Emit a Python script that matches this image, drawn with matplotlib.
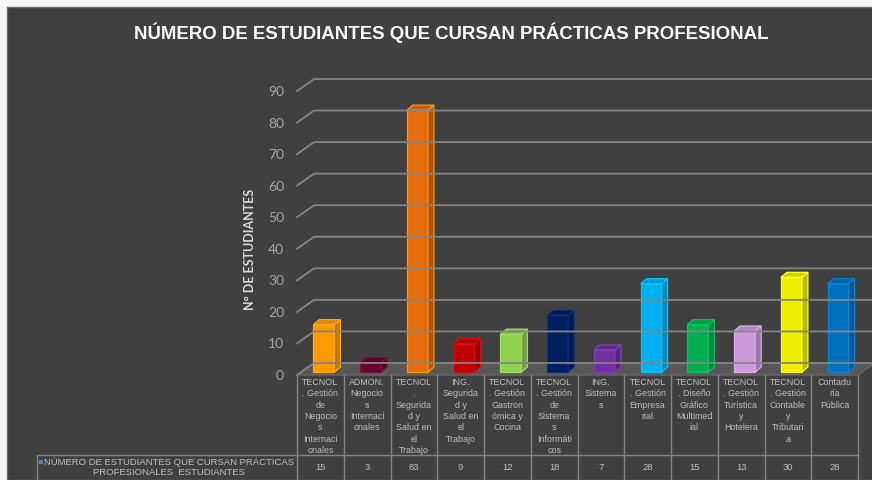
import matplotlib
matplotlib.use("Agg")
import matplotlib.pyplot as plt
from matplotlib.patches import Polygon, Rectangle
from matplotlib.lines import Line2D
from matplotlib.transforms import IdentityTransform
import matplotlib.colors as mcolors
import numpy as np

# chart data
title = "NÚMERO DE ESTUDIANTES QUE CURSAN PRÁCTICAS PROFESIONAL"
ylabel = "N° DE ESTUDIANTES"
series_name = "NÚMERO DE ESTUDIANTES QUE CURSAN PRÁCTICAS\nPROFESIONALES  ESTUDIANTES"
categories = [
    "TECNOL\n. Gestión\nde\nNegocio\ns\nInternaci\nonales",
    "ADMON.\nNegocio\ns\nInternaci\nonales",
    "TECNOL\n.\nSegurida\nd y\nSalud en\nel\nTrabajo",
    "ING.\nSegurida\nd y\nSalud en\nel\nTrabajo",
    "TECNOL\n. Gestión\nGastron\nómica y\nCocina",
    "TECNOL\n. Gestión\nde\nSistema\ns\nInformáti\ncos",
    "ING.\nSistema\ns",
    "TECNOL\n. Gestión\nEmpresa\nrial",
    "TECNOL\n. Diseño\nGráfico\nMultimed\nial",
    "TECNOL\n. Gestión\nTurística\ny\nHotelera",
    "TECNOL\n. Gestión\nContable\ny\nTributari\na",
    "Contadu\nría\nPública",
]
values = [15, 3, 83, 9, 12, 18, 7, 28, 15, 13, 30, 28]
yticks = [0, 10, 20, 30, 40, 50, 60, 70, 80, 90]

bar_colors = ["#FF9900", "#660033", "#E46C0A", "#C00000", "#92D050", "#002060",
              "#7030A0", "#00B0F0", "#00B050", "#CC99DD", "#EEEE00", "#0070C0"]
edge_colors = ["#FFA820", "#7A1040", "#FF9900", "#D01010", "#A0DC60", "#10307A",
               "#8040B0", "#10C0FF", "#10C060", "#DDAAEE", "#FFFF20", "#1080D0"]

W, H = 872, 481
panel = "#404040"
grid_c = "#848484"
text_c = "#BFBFBF"

fig = plt.figure(figsize=(W / 100, H / 100), dpi=100)
fig.patch.set_facecolor("#F5F5F5")
fig.add_artist(Rectangle((7 / W, 0), 1, 1 - 8 / H, transform=fig.transFigure,
                         facecolor=panel, edgecolor="#6A6A6A", lw=1, zorder=-5))

ax = fig.add_axes([297 / W, (H - 376) / H, (858 - 297) / W, (376 - 92) / H])
ax.set_xlim(-0.5, len(values) - 0.5)
ax.set_ylim(0, 90)
ax.axis("off")

ident = IdentityTransform()


def disp(x, v, dx=0, dy=0):
    p = ax.transData.transform((x, v))
    return (p[0] + dx, p[1] + dy)


def pix(x, y):
    # pixel position measured from the top-left corner
    return (x, H - y)


back = (17, 12)
xl, xr = -0.5, len(values) - 0.5

# back wall gridlines
for v in yticks:
    pts = [disp(xl, v), disp(xl, v, *back), disp(xr, v, *back)]
    ax.add_line(Line2D([p[0] for p in pts], [p[1] for p in pts], transform=ident,
                       color=grid_c, lw=1.3, clip_on=False))
    tx, ty = disp(xl, v, -13, 0)
    ax.text(tx, ty, str(v), transform=ident, ha="right", va="center",
            color="#A6A6A6", fontsize=10, family="Lato")

# floor
floor = [disp(xl, 0), disp(xr, 0), disp(xr, 0, *back), disp(xl, 0, *back)]
ax.add_patch(Polygon(floor, closed=True, transform=ident, facecolor="#575757",
                     edgecolor="#6E6E6E", lw=0.8, clip_on=False))

# 3d-look bars
half = 0.225
dx, dy = 3.5, 3
ddx, ddy = 6, 5
for i, (v, c, ec) in enumerate(zip(values, bar_colors, edge_colors)):
    side_c = np.array(mcolors.to_rgb(c)) * 0.78
    top_c = np.array(mcolors.to_rgb(c)) * 0.88
    front = [disp(i - half, 0, dx, dy), disp(i + half, 0, dx, dy),
             disp(i + half, v, dx, dy), disp(i - half, v, dx, dy)]
    side = [disp(i + half, 0, dx, dy), disp(i + half, 0, dx + ddx, dy + ddy),
            disp(i + half, v, dx + ddx, dy + ddy), disp(i + half, v, dx, dy)]
    top = [disp(i - half, v, dx, dy), disp(i + half, v, dx, dy),
           disp(i + half, v, dx + ddx, dy + ddy), disp(i - half, v, dx + ddx, dy + ddy)]
    for poly, fc in [(front, c), (side, side_c), (top, top_c)]:
        ax.add_patch(Polygon(poly, closed=True, transform=ident, facecolor=fc,
                             edgecolor=ec, lw=0.9, clip_on=False))

# data table under the chart
row_top, row_mid, row_bot = 376, 456, 481
x_edges = [disp(i - 0.5, 0)[0] for i in range(len(values) + 1)]
for xe in x_edges:
    ax.add_line(Line2D([xe, xe], [H - row_top, H - row_bot], transform=ident,
                       color=grid_c, lw=1, clip_on=False))
ax.add_line(Line2D([37, x_edges[-1]], [H - row_mid, H - row_mid], transform=ident,
                   color=grid_c, lw=1, clip_on=False))
ax.add_line(Line2D([37, 37], [H - row_mid, H - row_bot], transform=ident,
                   color=grid_c, lw=1, clip_on=False))

for i, (lab, v) in enumerate(zip(categories, values)):
    cx = disp(i, 0)[0]
    ax.text(cx, H - 378, lab, transform=ident, ha="center", va="top", color=text_c,
            fontsize=6.4, family="Liberation Sans", linespacing=1.33)
    ax.text(cx, H - 468, str(v), transform=ident, ha="center", va="center",
            color=text_c, fontsize=6.8, family="Liberation Sans")

ax.add_patch(Rectangle(pix(39, 465), 4, 4, transform=ident, facecolor="#4F81BD",
                       edgecolor="none", clip_on=False))
ax.text(169, H - 467, series_name, transform=ident, ha="center", va="center",
        color=text_c, fontsize=6.8, family="Liberation Sans", linespacing=1.05)

# titles
fig.text(451 / W, 1 - 33 / H, title, ha="center", va="center", color="white",
         fontsize=13.4, fontweight="bold", family="Liberation Sans")
fig.text(250 / W, 1 - 249 / H, ylabel, ha="center", va="center", rotation=90,
         color="#D9D9D9", fontsize=9, fontweight="bold", family="Lato")

fig.savefig("out.png", dpi=100, facecolor=fig.get_facecolor())
